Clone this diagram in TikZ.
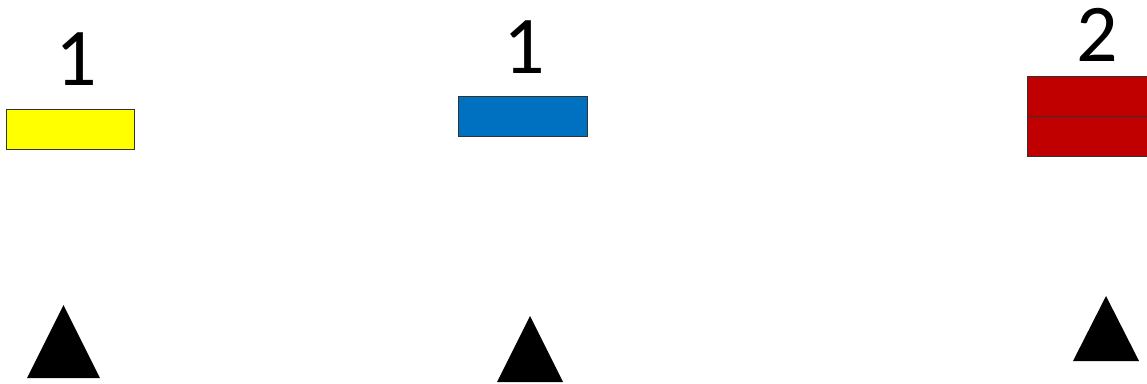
\documentclass[tikz,border=0pt]{standalone}
\usepackage{fontspec}
\setmainfont{Carlito}
\begin{document}
\begin{tikzpicture}[x=1pt,y=-1pt,
  num/.style={anchor=base,inner sep=0pt,font=\fontsize{82}{82}\selectfont},
  bar/.style={draw=black!80,line width=0.9pt},
  tri/.style={fill=black}]
\definecolor{myyellow}{HTML}{FFFF00}
\definecolor{myblue}{HTML}{0070C0}
\definecolor{myred}{HTML}{C00000}
\clip (0,0) rectangle (1147,383);
\fill[white] (0,0) rectangle (1147,383);
% numbers
\node[num] (n1) at (76.5,85) {1};
\node[num] (n2) at (524.5,73) {1};
\node[num] (n3) at (1097,61) {2};
% bars
\draw[bar,fill=myyellow] (6,109) rectangle (134,149);
\draw[bar,fill=myblue] (458,96) rectangle (587,136);
\draw[bar,fill=myred] (1027,76) rectangle (1155,116);
\draw[bar,fill=myred] (1027,116) rectangle (1155,156);
% triangles
\fill[tri] (63.5,305) -- (100,378) -- (27,378) -- cycle;
\fill[tri] (530,316) -- (563,382) -- (497,382) -- cycle;
\fill[tri] (1106,296) -- (1139,361) -- (1073,361) -- cycle;
\end{tikzpicture}
\end{document}
